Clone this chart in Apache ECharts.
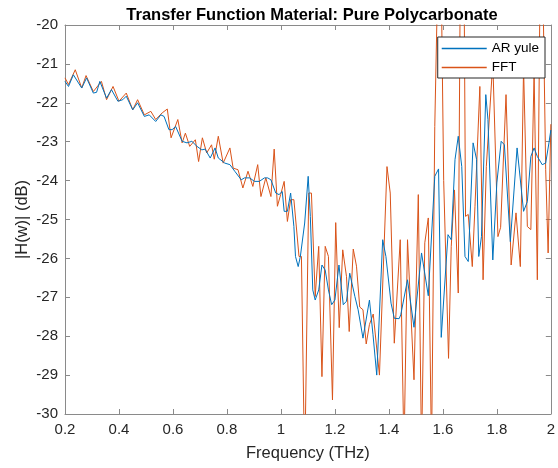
<!DOCTYPE html>
<html>
<head>
<meta charset="utf-8">
<script src="https://cdn.jsdelivr.net/npm/echarts@6/dist/echarts.min.js"></script>
<style>
html,body{margin:0;padding:0;background:#fff;}
#chart{width:558px;height:468px;}
</style>
</head>
<body>
<div id="chart"></div>
<script>
var xTicks = [0.2,0.4,0.6,0.8,1,1.2,1.4,1.6,1.8,2];
var yTicks = [-30,-29,-28,-27,-26,-25,-24,-23,-22,-21,-20];

var arFreq = [0.200,0.213,0.231,0.250,0.262,0.280,0.305,0.317,0.329,0.354,
0.372,0.396,0.414,0.427,0.451,0.469,0.494,0.512,0.536,0.555,
0.567,0.585,0.597,0.610,0.634,0.652,0.670,0.689,0.707,0.719,
0.738,0.756,0.768,0.792,0.811,0.829,0.853,0.865,0.884,0.902,
0.920,0.939,0.951,0.963,0.981,0.993,1.005,1.012,1.024,1.036,
1.048,1.054,1.064,1.072,1.088,1.101,1.109,1.118,1.127,1.140,
1.152,1.164,1.176,1.188,1.200,1.215,1.231,1.243,1.255,1.274,
1.286,1.304,1.328,1.341,1.355,1.377,1.389,1.408,1.420,1.438,
1.444,1.469,1.493,1.521,1.546,1.570,1.584,1.594,1.619,1.631,
1.645,1.657,1.670,1.682,1.694,1.712,1.725,1.733,1.743,1.759,
1.767,1.785,1.800,1.816,1.828,1.850,1.875,1.899,1.913,1.926,
1.938,1.950,1.968,1.981,1.993,2.000];

var arDb = [-21.45,-21.58,-21.28,-21.49,-21.62,-21.36,-21.75,-21.73,-21.45,-21.88,
-21.66,-21.96,-21.92,-21.83,-22.18,-22.00,-22.35,-22.31,-22.48,-22.31,
-22.35,-22.69,-22.69,-22.61,-22.99,-23.03,-22.99,-23.12,-23.21,-23.19,
-23.42,-23.16,-23.42,-23.55,-23.59,-23.76,-23.98,-23.93,-23.93,-24.02,
-24.02,-23.93,-23.93,-23.98,-24.32,-24.36,-24.28,-24.79,-24.79,-24.32,
-25.18,-25.95,-26.21,-25.95,-25.09,-23.89,-24.92,-26.81,-27.07,-26.81,
-26.17,-26.30,-26.81,-27.19,-27.07,-26.17,-27.19,-27.10,-26.38,-26.98,
-27.32,-28.05,-27.07,-27.95,-29.00,-25.52,-25.95,-27.15,-27.54,-27.55,
-27.45,-26.55,-27.77,-25.86,-26.96,-23.89,-23.70,-28.03,-25.39,-25.52,
-23.46,-22.86,-23.64,-25.95,-26.08,-23.03,-23.46,-25.95,-25.44,-21.79,
-22.43,-26.04,-24.06,-22.99,-23.08,-25.57,-23.16,-24.79,-24.54,-23.38,
-23.16,-23.38,-23.59,-23.55,-23.03,-22.70];

var fftFreq = [0.200,0.213,0.238,0.262,0.278,0.305,0.335,0.354,0.378,0.400,
0.427,0.451,0.469,0.494,0.518,0.536,0.560,0.579,0.593,0.618,
0.634,0.646,0.662,0.683,0.695,0.709,0.725,0.743,0.753,0.768,
0.786,0.811,0.823,0.841,0.859,0.878,0.896,0.914,0.926,0.944,
0.963,0.975,0.987,0.999,1.012,1.024,1.036,1.048,1.067,1.076,
1.088,1.103,1.113,1.127,1.140,1.152,1.164,1.176,1.191,1.203,
1.216,1.229,1.243,1.253,1.268,1.280,1.292,1.304,1.316,1.328,
1.342,1.365,1.393,1.405,1.420,1.442,1.456,1.469,1.493,1.509,
1.521,1.533,1.546,1.558,1.570,1.589,1.603,1.621,1.631,1.643,
1.657,1.667,1.676,1.684,1.694,1.709,1.719,1.737,1.749,1.761,
1.785,1.804,1.814,1.834,1.853,1.871,1.887,1.899,1.913,1.926,
1.938,1.950,1.964,1.981,1.990,2.000];

var fftDb = [-21.36,-21.53,-21.15,-21.62,-21.30,-21.71,-21.45,-21.92,-21.58,-21.96,
-21.75,-22.18,-21.92,-22.31,-22.22,-22.43,-22.26,-22.16,-22.90,-22.43,
-23.03,-22.78,-23.12,-22.95,-23.51,-22.90,-23.29,-23.08,-23.45,-22.86,
-23.55,-23.16,-23.68,-23.72,-24.19,-23.76,-24.15,-23.59,-24.41,-23.93,
-24.41,-23.19,-24.66,-24.36,-24.02,-25.05,-24.49,-24.49,-25.95,-25.95,
-31.50,-24.32,-24.32,-26.98,-25.69,-29.04,-25.69,-25.95,-29.64,-25.08,
-27.78,-25.78,-26.47,-27.88,-25.76,-26.20,-27.25,-27.32,-28.20,-27.70,
-27.43,-29.00,-23.64,-24.32,-28.18,-25.52,-31.00,-25.52,-29.12,-24.36,
-31.00,-25.60,-24.96,-31.00,-22.61,-16.00,-24.00,-28.57,-25.70,-24.24,
-26.89,-16.00,-16.00,-24.92,-24.87,-26.21,-24.66,-21.58,-26.55,-23.64,
-20.95,-25.44,-25.20,-21.79,-26.17,-24.83,-26.21,-21.10,-25.18,-25.26,
-21.20,-26.55,-16.00,-23.72,-25.86,-22.55];

var seriesNames = ['AR yule', 'FFT'];

function pairs(xs, ys) {
  var out = [];
  for (var i = 0; i < xs.length; i++) out.push([xs[i], ys[i]]);
  return out;
}

var FONT = '"Liberation Sans", Arial, Helvetica, sans-serif';
var AXC = '#8a8a8a';
var TXT = '#262626';

var chart = echarts.init(document.getElementById('chart'), null, {renderer: 'canvas'});
var axisCommon = {
  type: 'value',
  axisLine: {show: true, lineStyle: {color: AXC, width: 1}},
  axisTick: {show: true, inside: true, length: 5, lineStyle: {color: AXC, width: 1}},
  splitLine: {show: false}
};
chart.setOption({
  animation: false,
  backgroundColor: '#ffffff',
  title: {
    text: 'Transfer Function Material: Pure Polycarbonate',
    left: 307, top: 2, textAlign: 'center',
    textStyle: {fontFamily: FONT, fontSize: 16.5, fontWeight: 'bold', color: '#000'}
  },
  legend: {
    orient: 'vertical', right: 13, top: 37,
    data: seriesNames,
    icon: 'rect',
    itemWidth: 45, itemHeight: 1.5, itemGap: 4,
    padding: [4, 6, 3, 4],
    backgroundColor: '#fff', borderColor: '#262626', borderWidth: 1, borderRadius: 0,
    textStyle: {fontFamily: FONT, fontSize: 13.5, color: '#000', lineHeight: 15}
  },
  grid: {left: 65, right: 1, top: 25, bottom: 54, containLabel: false},
  xAxis: [
    Object.assign({}, axisCommon, {
      min: 0.2, max: 2, interval: 0.2, position: 'bottom',
      name: 'Frequency (THz)', nameLocation: 'middle', nameGap: 31, nameMoveOverlap: false,
      nameTextStyle: {fontFamily: FONT, fontSize: 16.5, color: TXT},
      axisLabel: {fontFamily: FONT, fontSize: 15, color: TXT, margin: 8,
        formatter: function (v) { return String(parseFloat(v.toFixed(1))); }}
    }),
    Object.assign({}, axisCommon, {
      min: 0.2, max: 2, interval: 0.2, position: 'top', axisLabel: {show: false}
    })
  ],
  yAxis: [
    Object.assign({}, axisCommon, {
      min: -30, max: -20, interval: 1, position: 'left',
      name: '|H(w)| (dB)', nameLocation: 'middle', nameGap: 34, nameMoveOverlap: false,
      nameTextStyle: {fontFamily: FONT, fontSize: 16.5, color: TXT},
      axisLabel: {fontFamily: FONT, fontSize: 15, color: TXT, margin: 7}
    }),
    Object.assign({}, axisCommon, {
      min: -30, max: -20, interval: 1, position: 'right', axisLabel: {show: false}
    })
  ],
  series: [
    {
      name: seriesNames[0], type: 'line', xAxisIndex: 0, yAxisIndex: 0,
      data: pairs(arFreq, arDb), symbol: 'none', showSymbol: false, clip: true,
      lineStyle: {color: '#0072BD', width: 1}, itemStyle: {color: '#0072BD'}, z: 3
    },
    {
      name: seriesNames[1], type: 'line', xAxisIndex: 0, yAxisIndex: 0,
      data: pairs(fftFreq, fftDb), symbol: 'none', showSymbol: false, clip: true,
      lineStyle: {color: '#D95319', width: 1}, itemStyle: {color: '#D95319'}, z: 2
    }
  ]
});
</script>
</body>
</html>
